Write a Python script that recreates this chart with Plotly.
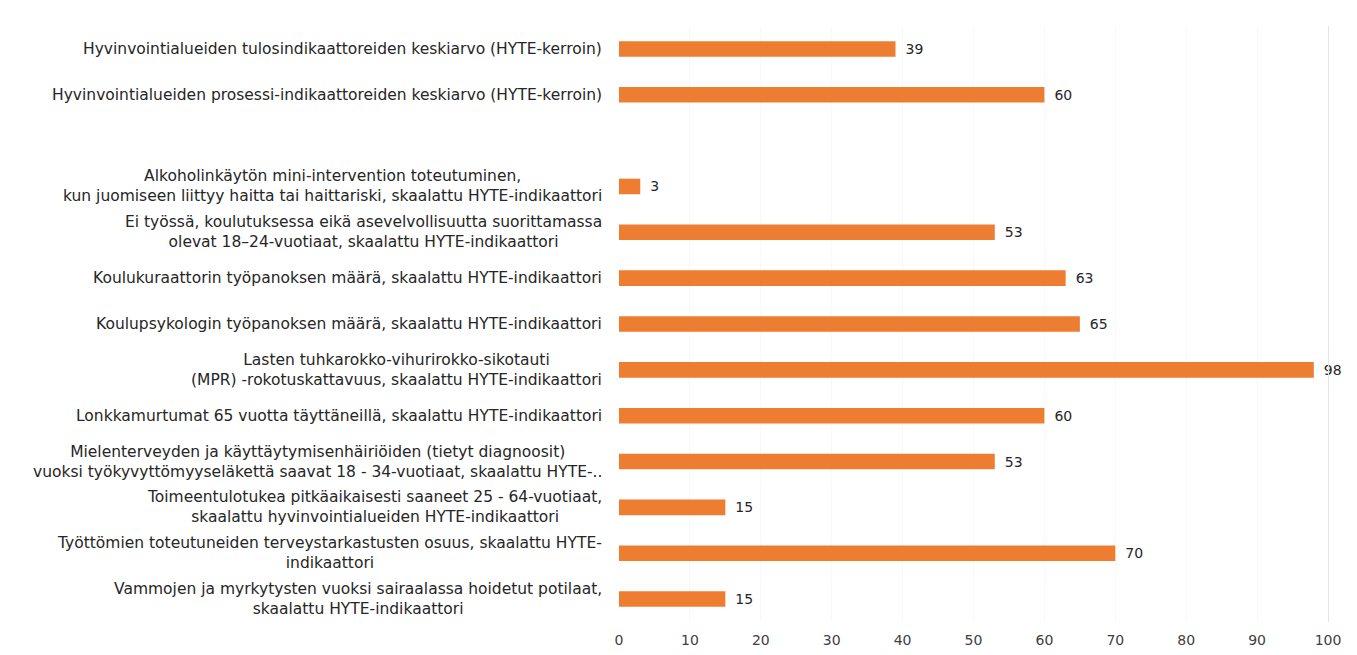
import plotly.graph_objects as go

labels = [
    "Hyvinvointialueiden tulosindikaattoreiden keskiarvo (HYTE-kerroin)",
    "Hyvinvointialueiden prosessi-indikaattoreiden keskiarvo (HYTE-kerroin)",
    "",
    "Alkoholinkäytön mini-intervention toteutuminen,<br>kun juomiseen liittyy haitta tai haittariski, skaalattu HYTE-indikaattori",
    "Ei työssä, koulutuksessa eikä asevelvollisuutta suorittamassa<br>olevat 18–24-vuotiaat, skaalattu HYTE-indikaattori",
    "Koulukuraattorin työpanoksen määrä, skaalattu HYTE-indikaattori",
    "Koulupsykologin työpanoksen määrä, skaalattu HYTE-indikaattori",
    "Lasten tuhkarokko-vihurirokko-sikotauti<br>(MPR) -rokotuskattavuus, skaalattu HYTE-indikaattori",
    "Lonkkamurtumat 65 vuotta täyttäneillä, skaalattu HYTE-indikaattori",
    "Mielenterveyden ja käyttäytymisenhäiriöiden (tietyt diagnoosit)<br>vuoksi työkyvyttömyyseläkettä saavat 18 - 34-vuotiaat, skaalattu HYTE-..",
    "Toimeentulotukea pitkäaikaisesti saaneet 25 - 64-vuotiaat,<br>skaalattu hyvinvointialueiden HYTE-indikaattori",
    "Työttömien toteutuneiden terveystarkastusten osuus, skaalattu HYTE-<br>indikaattori",
    "Vammojen ja myrkytysten vuoksi sairaalassa hoidetut potilaat,<br>skaalattu HYTE-indikaattori",
]
values = [39, 60, None, 3, 53, 63, 65, 98, 60, 53, 15, 70, 15]
x_ticks = [0, 10, 20, 30, 40, 50, 60, 70, 80, 90, 100]

positions = list(range(len(labels)))
bar_pos = [p for p, v in zip(positions, values) if v is not None]
bar_vals = [v for v in values if v is not None]

FONT = "DejaVu Sans"
COLOR = "#ED7D31"

fig = go.Figure()
fig.add_trace(go.Bar(
    y=bar_pos, x=bar_vals, orientation="h",
    marker=dict(color=COLOR, line=dict(width=0)),
    width=0.34,
    texttemplate="\u2002%{x}", textposition="outside", constraintext="none",
    textfont=dict(family=FONT, size=14, color="#262626"),
    cliponaxis=False, hoverinfo="x+y",
))

annotations = []
for p, lab in zip(positions, labels):
    if not lab:
        continue
    annotations.append(dict(
        x=0, xref="paper", y=p, yref="y", text=lab, showarrow=False,
        xanchor="right", yanchor="middle", align="center", xshift=-15,
        font=dict(family=FONT, size=15.5, color="#262626"),
    ))

fig.update_layout(
    width=1341, height=639,
    margin=dict(l=611, r=21, t=18, b=25, autoexpand=False),
    paper_bgcolor="white", plot_bgcolor="white",
    showlegend=False,
    annotations=annotations,
    xaxis=dict(range=[0, 100], tickvals=x_ticks, showgrid=True, gridcolor="#F8F8F8",
               gridwidth=1, zeroline=False, showline=False, ticklabelstandoff=8,
               automargin=False,
               tickfont=dict(family=FONT, size=14, color="#404040")),
    yaxis=dict(range=[len(labels) - 0.5, -0.5], showticklabels=False, showgrid=False,
               zeroline=False, showline=True, linecolor="#E4E4E4", linewidth=1,
               side="right", automargin=False),
)

fig.write_html("out.html")
